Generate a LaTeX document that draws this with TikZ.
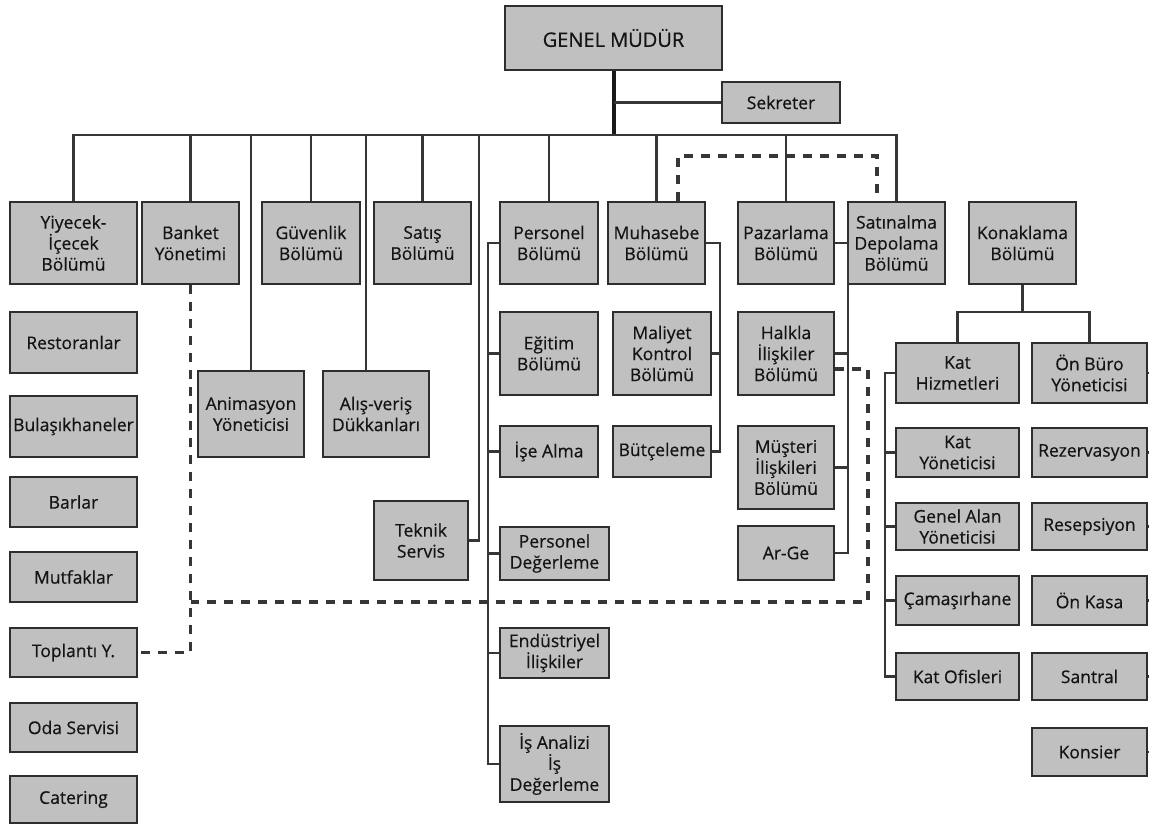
\documentclass[tikz,border=0pt]{standalone}
\usepackage{fontspec}
\setmainfont{Open Sans}[FakeBold=0.5]
\definecolor{boxfill}{HTML}{C0C0C0}
\definecolor{boxline}{HTML}{2E2E2E}
\definecolor{conn}{HTML}{363636}
\definecolor{txt}{HTML}{141414}
\tikzset{
  box/.style={draw=boxline, fill=boxfill, line width=2.8pt, inner sep=0pt,
    align=center, text=txt, font=\fontsize{17.5}{21}\selectfont},
  bigbox/.style={box, font=\fontsize{20}{24}\selectfont},
  link/.style={draw=conn, line width=2.5pt},
  mainlink/.style={draw=black!90, line width=4pt},
  dashlink/.style={draw=conn, line width=3.2pt, dash pattern=on 9pt off 8pt},
}
\newcommand\obox[7][box]{\node[#1, minimum width={(#5-#3)*1pt}, minimum height={(#6-#4)*1pt}] (#2) at ({(#3+#5)/2},{(#4+#6)/2}) {#7};}
\begin{document}
\begin{tikzpicture}[x=1pt,y=-1pt]
\useasboundingbox (0,0) rectangle (1149,825);
% boxes
\obox[bigbox]{gm}{505}{6}{722}{70}{GENEL MÜDÜR}
\obox{sek}{722}{82}{840}{123}{Sekreter}
\obox{yi}{10}{202}{137}{284}{Yiyecek-\\İçecek\\Bölümü}
\obox{ban}{142}{202}{239}{284}{Banket\\Yönetimi}
\obox{guv}{262}{202}{360}{284}{Güvenlik\\Bölümü}
\obox{sat}{374}{202}{471}{284}{Satış\\Bölümü}
\obox{per}{500}{202}{598}{284}{Personel\\Bölümü}
\obox{muh}{608}{202}{705}{284}{Muhasebe\\Bölümü}
\obox{paz}{738}{202}{834}{284}{Pazarlama\\Bölümü}
\obox{stn}{848}{202}{945}{284}{Satınalma\\Depolama\\Bölümü}
\obox{kon}{969}{202}{1076}{284}{Konaklama\\Bölümü}
\obox{res}{10}{312}{137}{373}{Restoranlar}
\obox{bul}{10}{396}{137}{457}{Bulaşıkhaneler}
\obox{bar}{10}{477}{137}{527}{Barlar}
\obox{mut}{10}{552}{137}{602}{Mutfaklar}
\obox{top}{10}{628}{137}{677}{Toplantı Y.}
\obox{oda}{10}{703}{137}{752}{Oda Servisi}
\obox{cat}{10}{776}{137}{823}{Catering}
\obox{ani}{198}{371}{304}{457}{Animasyon\\Yöneticisi}
\obox{ali}{323}{371}{429}{457}{Alış-veriş\\Dükkanları}
\obox{tek}{374}{501}{468}{580}{Teknik\\Servis}
\obox{egi}{500}{312}{598}{395}{Eğitim\\Bölümü}
\obox{ise}{500}{426}{598}{477}{İşe Alma}
\obox{pdg}{500}{527}{609}{580}{Personel\\Değerleme}
\obox{end}{500}{628}{609}{678}{Endüstriyel\\İlişkiler}
\obox{isa}{500}{726}{609}{802}{İş Analizi\\İş\\Değerleme}
\obox{mal}{613}{312}{711}{395}{Maliyet\\Kontrol\\Bölümü}
\obox{but}{613}{426}{711}{477}{Bütçeleme}
\obox{hal}{738}{312}{834}{395}{Halkla\\İlişkiler\\Bölümü}
\obox{mus}{738}{426}{834}{509}{Müşteri\\İlişkileri\\Bölümü}
\obox{arg}{738}{526}{834}{580}{Ar-Ge}
\obox{kh}{896}{343}{1019}{403}{Kat\\Hizmetleri}
\obox{ob}{1032}{343}{1147}{403}{Ön Büro\\Yöneticisi}
\obox{ky}{896}{428}{1019}{477}{Kat\\Yöneticisi}
\obox{rez}{1032}{428}{1147}{477}{Rezervasyon}
\obox{ga}{896}{503}{1019}{550}{Genel Alan\\Yöneticisi}
\obox{rsp}{1032}{503}{1147}{550}{Resepsiyon}
\obox{cam}{896}{576}{1019}{625}{Çamaşırhane}
\obox{ok}{1032}{576}{1147}{625}{Ön Kasa}
\obox{ko}{896}{653}{1019}{700}{Kat Ofisleri}
\obox{san}{1032}{653}{1147}{700}{Santral}
\obox{kns}{1032}{728}{1147}{776}{Konsier}
% helper coordinates
\coordinate (bus) at (0,135);
\coordinate (tkc) at (479,135);
\coordinate (pl) at (488,0);
\coordinate (ml) at (720,0);
\coordinate (zl) at (848,0);
\coordinate (kb) at (0,312);
\coordinate (kl) at (885,0);
\coordinate (rE) at (1152,0);
\coordinate (dtop) at (0,156);
\coordinate (dc) at (868,602);
% main trunk
\draw[mainlink] (gm.south) -- (gm.south |- bus);
\draw[link] (gm.south |- sek.west) -- (sek.west);
\draw[link] (yi.north) -- (yi.north |- bus) -- (stn.north |- bus) -- (stn.north);
\foreach \n in {ban,guv,sat,per,muh,paz}
  \draw[link] (\n.north) -- (\n.north |- bus);
\draw[link] (ani.north) -- (ani.north |- bus);
\draw[link] ([xshift=-10pt]ali.north) -- ([xshift=-10pt]ali.north |- bus);
\draw[link] (tkc) |- (tek.east);
% personel
\draw[link] (per.west) -- (per.west -| pl) -- (pl |- isa.west) -- (isa.west);
\foreach \n in {egi,ise,pdg,end}
  \draw[link] (\n.west) -- (\n.west -| pl);
% muhasebe
\draw[link] (muh.east) -- (muh.east -| ml) -- (ml |- but.east) -- (but.east);
\draw[link] (mal.east) -- (mal.east -| ml);
% pazarlama
\draw[link] (paz.east) -- (paz.east -| zl) -- (zl |- arg.east) -- (arg.east);
\foreach \n in {hal,mus}
  \draw[link] (\n.east) -- (\n.east -| zl);
% konaklama
\draw[link] (kon.south) -- (kon.south |- kb);
\draw[link] (kh.north) -- (kh.north |- kb) -- (ob.north |- kb) -- (ob.north);
\draw[link] (kh.west) -- (kh.west -| kl) -- (kl |- ko.west) -- (ko.west);
\foreach \n in {ky,ga,cam}
  \draw[link] (\n.west) -- (\n.west -| kl);
\foreach \n in {ob,rez,rsp,ok,san,kns}
  \draw[link] (\n.east) -- (\n.east -| rE);
% dashed
\draw[dashlink] ([xshift=21.5pt]muh.north) -- ([xshift=21.5pt]muh.north |- dtop) -- ([xshift=-19.5pt]stn.north |- dtop) -- ([xshift=-19.5pt]stn.north);
\draw[dashlink] ([yshift=-15.5pt]hal.east) -| (dc) -- (dc -| ban.south);
\draw[dashlink] (ban.south) |- (top.east);
\end{tikzpicture}
\end{document}
